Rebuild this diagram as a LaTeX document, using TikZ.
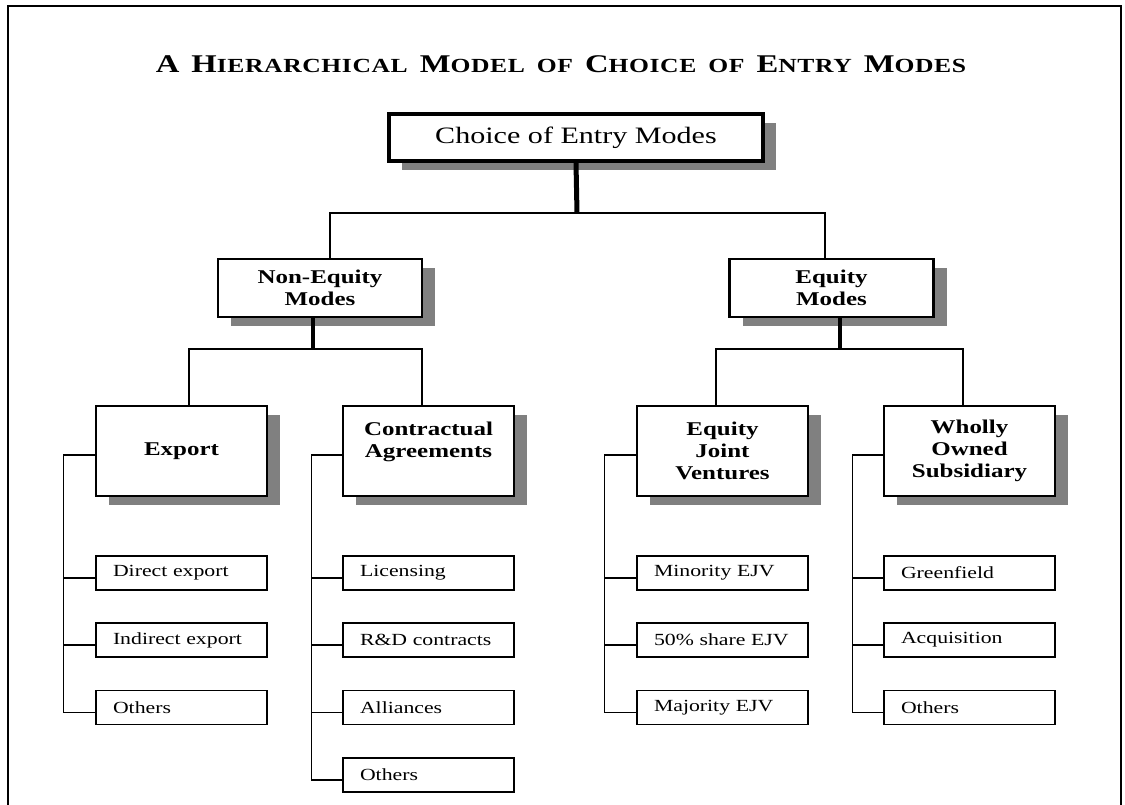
\documentclass[tikz,border=0pt]{standalone}
\usepackage{fontspec}
\setmainfont{Liberation Serif}[FakeStretch=1.28]
\newfontfamily\titlefont{Liberation Serif}[FakeStretch=1.28, LetterSpace=3]
\usetikzlibrary{shadows}
% fake small capitals for the heading
\newcommand\ttlbig[1]{{\fontsize{25.5}{24}\selectfont #1}}
\newcommand\ttlsmall[1]{{\fontsize{20}{24}\selectfont #1}}
\newcommand\ttlgap{\hspace{12pt}}
\begin{document}
\begin{tikzpicture}[x=1pt,y=-1pt,
  conn/.style={line width=1.5pt},
  stubthick/.style={line width=5pt},
  stubmid/.style={line width=4pt},
  shbox/.style={draw, fill=white, inner sep=0pt,
    drop shadow={shadow xshift=13pt, shadow yshift=-9pt, fill=black!50, opacity=1}},
  topbox/.style={shbox, line width=3.5pt, minimum width=374pt, minimum height=47pt,
    font=\fontsize{23.5}{26}\selectfont},
  midbox/.style={shbox, line width=2.6pt, minimum width=204pt, minimum height=58pt,
    align=center, font=\fontsize{19.5}{22}\selectfont\bfseries},
  subbox/.style={shbox, line width=2.6pt, minimum width=171pt, minimum height=90pt,
    align=center, font=\fontsize{19.5}{22}\selectfont\bfseries},
  leaf/.style={draw, line width=1.4pt, minimum width=171pt, minimum height=34pt,
    text width=137pt, inner xsep=17pt, align=left, font=\fontsize{17}{20}\selectfont},
]
\useasboundingbox (0,0) rectangle (1125,805);

% page frame, open at the bottom
\draw[line width=2.5pt] (8,805) -- (8,6) -- (1121,6) -- (1121,805);

% heading
\node[anchor=base, inner sep=0pt, font=\titlefont\bfseries] (title) at (561,73)
  {\ttlbig{A}\ttlgap\ttlbig{H}\ttlsmall{IERARCHICAL}\ttlgap\ttlbig{M}\ttlsmall{ODEL}\ttlgap\ttlsmall{OF}\ttlgap
   \ttlbig{C}\ttlsmall{HOICE}\ttlgap\ttlsmall{OF}\ttlgap\ttlbig{E}\ttlsmall{NTRY}\ttlgap\ttlbig{M}\ttlsmall{ODES}};

% level 1
\node[topbox] (top) at (576,137.5) {Choice of Entry Modes};

% level 2
\node[midbox] (ne) at (320,288) {Non-Equity\\Modes};
\node[midbox] (eq) at (831.5,288) {Equity\\Modes};

% level 3
\node[subbox] (ex)  at (181.5,451) {Export};
\node[subbox] (ca)  at (428.5,451) {Contractual\\Agreements\\~};
\node[subbox] (ejv) at (722.5,451) {Equity\\Joint\\Ventures};
\node[subbox] (wos) at (969.5,451) {Wholly\\Owned\\Subsidiary};

% level 4
\node[leaf] (ex1) at (181.5,573)   {Direct export};
\node[leaf] (ex2) at (181.5,640)   {Indirect export};
\node[leaf] (ex3) at (181.5,707.5) {Others};

\node[leaf] (ca1) at (428.5,573)   {Licensing};
\node[leaf] (ca2) at (428.5,640)   {R\&D contracts};
\node[leaf] (ca3) at (428.5,707.5) {Alliances};
\node[leaf] (ca4) at (428.5,775)   {Others};

\node[leaf] (ejv1) at (722.5,573)   {Minority EJV};
\node[leaf] (ejv2) at (722.5,640)   {50\% share EJV};
\node[leaf] (ejv3) at (722.5,707.5) {Majority EJV};

\node[leaf] (wos1) at (969.5,573)   {Greenfield};
\node[leaf] (wos2) at (969.5,640)   {Acquisition};
\node[leaf] (wos3) at (969.5,707.5) {Others};

% bus junctions
\coordinate (bus1) at (577,213);
\coordinate (bus2) at (313,349);
\coordinate (bus3) at (840,349);

% level 1 to level 2
\draw[stubthick] (top.south) -- (bus1);
\draw[conn] ([xshift=10pt]ne.north) |- (bus1) -| ([xshift=-6.5pt]eq.north);

% level 2 to level 3
\draw[stubmid] (bus2 |- ne.south) -- (bus2);
\draw[conn] ([xshift=7.5pt]ex.north) |- (bus2) -| ([xshift=-6.5pt]ca.north);
\draw[stubmid] (bus3 |- eq.south) -- (bus3);
\draw[conn] ([xshift=-6.5pt]ejv.north) |- (bus3) -| ([xshift=-6.5pt]wos.north);

% level 3 to level 4
\draw[conn] ([yshift=-4pt]ex.west) -- ++(-31,0) |- ([yshift=-5pt]ex3.west);
\draw[conn] ([yshift=-5pt]ex1.west) -- ++(-31,0);
\draw[conn] ([yshift=-5pt]ex2.west) -- ++(-31,0);

\draw[conn] ([yshift=-4pt]ca.west) -- ++(-30,0) |- ([yshift=-5pt]ca4.west);
\draw[conn] ([yshift=-5pt]ca1.west) -- ++(-30,0);
\draw[conn] ([yshift=-5pt]ca2.west) -- ++(-30,0);
\draw[conn] ([yshift=-5pt]ca3.west) -- ++(-30,0);

\draw[conn] ([yshift=-4pt]ejv.west) -- ++(-31,0) |- ([yshift=-5pt]ejv3.west);
\draw[conn] ([yshift=-5pt]ejv1.west) -- ++(-31,0);
\draw[conn] ([yshift=-5pt]ejv2.west) -- ++(-31,0);

\draw[conn] ([yshift=-4pt]wos.west) -- ++(-30,0) |- ([yshift=-5pt]wos3.west);
\draw[conn] ([yshift=-5pt]wos1.west) -- ++(-30,0);
\draw[conn] ([yshift=-5pt]wos2.west) -- ++(-30,0);
\end{tikzpicture}
\end{document}
